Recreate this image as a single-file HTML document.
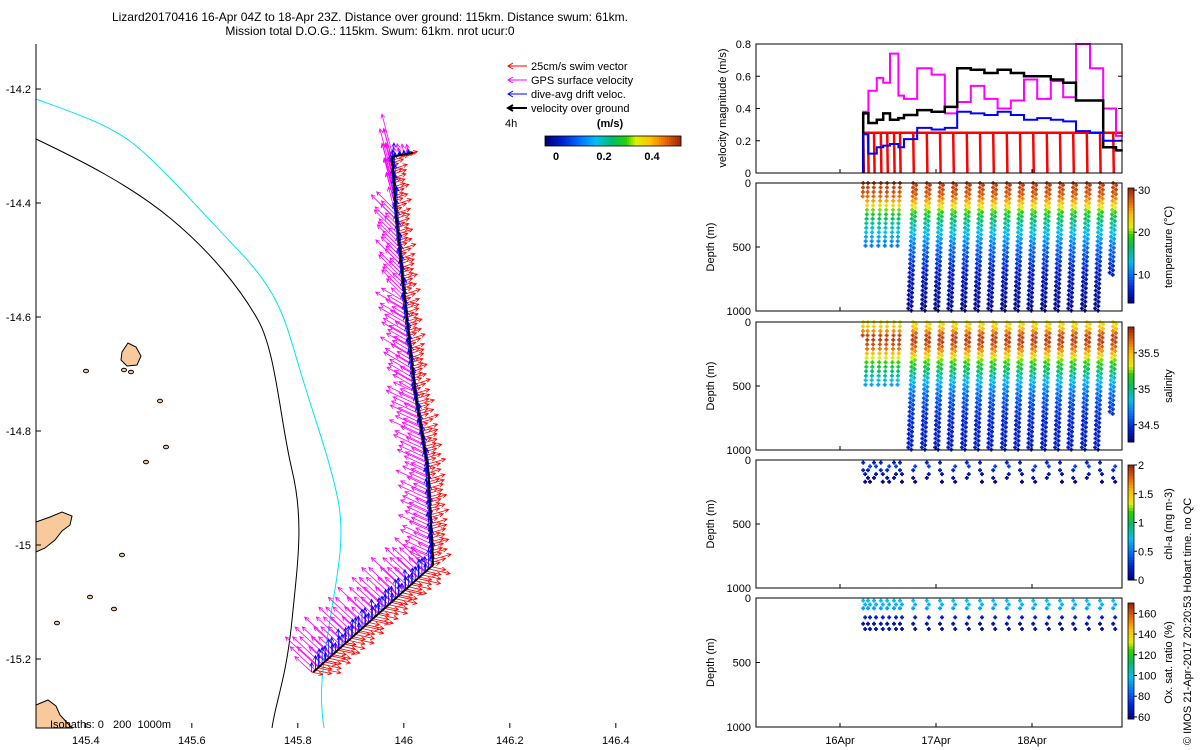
<!DOCTYPE html>
<html><head><meta charset="utf-8">
<style>
body{margin:0;background:#fff;}
svg{display:block;font-family:"Liberation Sans",sans-serif;}
</style></head>
<body>
<svg id="chart" width="1200" height="750" viewBox="0 0 1200 750">
<text x="370" y="21" font-size="12" text-anchor="middle">Lizard20170416 16-Apr 04Z to 18-Apr 23Z. Distance over ground: 115km. Distance swum: 61km.</text>
<text x="370" y="35" font-size="12" text-anchor="middle">Mission total D.O.G.: 115km. Swum: 61km. nrot ucur:0</text>
<g id="map"></g>
<g id="ts"></g>
<text transform="translate(1191,745) rotate(-90)" font-size="11">© IMOS 21-Apr-2017 20:20:53 Hobart time. no QC</text>
</svg>
<script>
// ---------- DATA ----------
const trackLon=[145.829,146.055,146.046,146.021,146.002,145.985,145.978,146.017];
const trackLat=[-15.223,-15.035,-14.868,-14.728,-14.570,-14.412,-14.319,-14.312];
const gpsU=[-28,-26,-26,-24,-20,-10,-2];
const gpsV=[-26,-12,-12,-14,-20,-38,-10];
const driftU=[0,-2,-2,-2,-1,0,0];
const driftV=[-16,-14,-12,-12,-12,-14,-4];
const swimU=[18,14,14,12,12,12,10];
const swimV=[4,-4,-4,-4,-4,-4,-2];
const xTicks=[145.4,145.6,145.8,146,146.2,146.4];
const yTicks=[-14.2,-14.4,-14.6,-14.8,-15,-15.2];
const stepH=[5.8,7.1,9.2,10.8,12.5,14.6,16,19.3,22.9,26.2,29.3,32.7,36.1,39.4,42.7,46,49.3,52.7,55.8,59,62.5,65.8,69];
const gpsVel=[0.38,0.51,0.59,0.56,0.74,0.48,0.46,0.65,0.61,0.37,0.44,0.54,0.46,0.40,0.45,0.58,0.46,0.57,0.47,0.95,0.65,0.40,0.23];
const dogVel=[0.37,0.31,0.33,0.37,0.33,0.34,0.36,0.39,0.38,0.41,0.65,0.64,0.62,0.64,0.62,0.60,0.60,0.58,0.56,0.45,0.45,0.16,0.14];
const driftVel=[0.24,0.12,0.16,0.17,0.18,0.16,0.21,0.28,0.27,0.28,0.38,0.37,0.36,0.38,0.36,0.33,0.34,0.33,0.32,0.26,0.25,0.20,0.20];
const swimVel=0.25;
const endH=70.7;
const diveH=[5.8,7.0,8.5,10.2,11.8,13.5,15.0,18.3,21.7,25,28.3,31.7,35,38.3,41.7,45,48.3,51.7,55,58.3,61.7,65,68.3];
const diveMax=[120,500,500,500,500,500,500,1000,1000,1000,1000,1000,1000,1000,1000,1000,1000,1000,1000,1000,1000,1000,700];
const profDepth=[0,50,100,150,200,250,300,400,500,600,700,800,1000];
const tempProf=[29.5,29,28,25,21,18,16,13,10,8,6,5,4];
const salProf=[35.35,35.5,35.78,35.8,35.7,35.5,35.25,35.0,34.75,34.6,34.5,34.45,34.42];
const chlDepth=[20,50,80,110,140,170];
const chlVal=[0.2,0.35,0.25,0.15,0.1,0.05];
const oxDepth=[20,50,80,150,200,240];
const oxVal=[100,97,94,70,65,65];
const velTicks=[0,0.2,0.4,0.6,0.8];
const dayLabels=["16Apr","17Apr","18Apr"];
const dayHours=[0,24,48];

// ---------- HELPERS ----------
const NS="http://www.w3.org/2000/svg";
function mk(parent,tag,a,txt){const e=document.createElementNS(NS,tag);for(const k in a)e.setAttribute(k,a[k]);if(txt!==undefined)e.textContent=txt;parent.appendChild(e);return e;}
const cmS=[0,0.12,0.25,0.37,0.5,0.6,0.67,0.78,0.88,1];
const cmC=[[0,0,122],[0,32,208],[0,112,255],[0,192,240],[0,192,96],[48,208,0],[224,240,0],[255,192,0],[240,112,0],[160,40,16]];
function jet(t){t=Math.max(0,Math.min(1,t));let i=1;while(i<cmS.length-1&&t>cmS[i])i++;const f=(t-cmS[i-1])/(cmS[i]-cmS[i-1]);
 const c=cmC[i-1].map((v,k)=>Math.round(v+f*(cmC[i][k]-v)));return `rgb(${c[0]},${c[1]},${c[2]})`;}
function interp(xs,ys,x){if(x<=xs[0])return ys[0];for(let i=1;i<xs.length;i++){if(x<=xs[i]){const f=(x-xs[i-1])/(xs[i]-xs[i-1]);return ys[i-1]+f*(ys[i]-ys[i-1]);}}return ys[ys.length-1];}
function plus(g,x,y,col){mk(g,'path',{d:`M${(x-2).toFixed(1)} ${y.toFixed(1)}h4M${x.toFixed(1)} ${(y-2).toFixed(1)}v4`,stroke:col,'stroke-width':1.8,fill:'none'});}

// ---------- MAP ----------
const map=document.getElementById('map');
const MX=lon=>36+(lon-145.306)*530, MY=lat=>89+(-14.2-lat)*570;
const land=mk(map,'g',{fill:'#f8c99a',stroke:'#000','stroke-width':1});


mk(land,'path',{d:'M36 522 L50 517 L62 512 L72 516 L70 525 L62 531 L55 540 L45 548 L36 552 Z'});
mk(land,'path',{d:'M36 705 L48 700 L56 706 L60 715 L72 728 L36 728 Z'});
mk(land,'path',{d:'M122 352 L128 343 L136 347 L141 356 L137 365 L127 366 L121 360 Z'});
[[86,371],[124,370],[131,372],[160,401],[166,447],[146,462],[122,555],[90,597],[114,609],[57,623]].forEach(p=>{mk(land,'ellipse',{cx:p[0],cy:p[1],rx:2.5,ry:1.8});});
const iso0=mk(map,'path',{d:'M36 139 C80 160 130 185 170 218 S240 288 258 320 S280 420 292 470 S298 560 292 620 S276 700 272 728',fill:'none',stroke:'#000','stroke-width':1});


const iso1=mk(map,'path',{d:'M36 99 C80 115 110 125 135 145 S200 210 240 252 S285 320 300 370 S330 460 338 500 S336 580 330 620 S318 690 324 728',fill:'none',stroke:'#00e5ee','stroke-width':1});


const vecG=mk(map,'g',{});


function arrow(g,x,y,dx,dy,col){const L=Math.hypot(dx,dy)||1,ux=dx/L,uy=dy/L,hx=x+dx,hy=y+dy,h=4;
 mk(g,'path',{d:`M${x.toFixed(1)} ${y.toFixed(1)}L${hx.toFixed(1)} ${hy.toFixed(1)}M${(hx-h*ux+h*0.5*uy).toFixed(1)} ${(hy-h*uy-h*0.5*ux).toFixed(1)}L${hx.toFixed(1)} ${hy.toFixed(1)}L${(hx-h*ux-h*0.5*uy).toFixed(1)} ${(hy-h*uy+h*0.5*ux).toFixed(1)}`,stroke:col,fill:'none','stroke-width':0.8});}
const layers=[['#ff00ff',gpsU,gpsV,'gps-vectors'],['#ff0000',swimU,swimV,'swim-vectors'],['#0000ff',driftU,driftV,'drift-vectors']];
layers.forEach(L=>{const g=mk(vecG,'g',{});
 
 
 for(let s=0;s<trackLon.length-1;s++){const x0=MX(trackLon[s]),y0=MY(trackLat[s]),x1=MX(trackLon[s+1]),y1=MY(trackLat[s+1]);
  const n=Math.max(2,Math.round(Math.hypot(x1-x0,y1-y0)/3));
  for(let k=0;k<n;k++){const f=k/n;const jx=(k%3-1)*1.5;const sc=0.6+0.6*((k*7)%5)/4;arrow(g,x0+f*(x1-x0)+jx,y0+f*(y1-y0),L[1][s]*sc,L[2][s]*sc,L[0]);}}});
const tr=mk(map,'polyline',{points:trackLon.map((l,i)=>MX(l).toFixed(1)+','+MY(trackLat[i]).toFixed(1)).join(' '),fill:'none',stroke:'#000','stroke-width':2});


mk(map,'line',{x1:36,y1:44,x2:36,y2:728,stroke:'#000','stroke-width':1});
xTicks.forEach(v=>{const x=MX(v);mk(map,'line',{x1:x,y1:728,x2:x,y2:723,stroke:'#000'});
 const t=mk(map,'text',{x:x,y:744,'font-size':11,'text-anchor':'middle'},String(v));
 
 });
yTicks.forEach(v=>{const y=MY(v);mk(map,'line',{x1:36,y1:y,x2:41,y2:y,stroke:'#000'});
 const t=mk(map,'text',{x:31,y:y+4,'font-size':11,'text-anchor':'end'},String(v));
 
 });
const isoT=mk(map,'text',{x:50,y:728,'font-size':11,'xml:space':'preserve'},'Isobaths: 0   200  1000m');


isoT.style.whiteSpace='pre';
const lg=mk(map,'g',{});


[['25cm/s swim vector','#ff0000'],['GPS surface velocity','#ff00ff'],['dive-avg drift veloc.','#0000ff'],['velocity over ground','#000']].forEach((e,i)=>{const y=66+i*14;
 const g=mk(lg,'g',{});
 
 
 mk(g,'path',{d:`M527 ${y}L508 ${y}M513 ${y-3}L508 ${y}L513 ${y+3}`,stroke:e[1],'stroke-width':i==3?2:1,fill:'none'});
 mk(g,'text',{x:531,y:y+4,'font-size':11},e[0]);});
mk(lg,'text',{x:505,y:127,'font-size':11},'4h');
mk(lg,'text',{x:610,y:127,'font-size':11,'font-weight':'bold','text-anchor':'middle'},'(m/s)');
for(let i=0;i<68;i++)mk(lg,'rect',{x:545+i*2,y:136,width:2.2,height:10,fill:jet(i/67)});
mk(lg,'rect',{x:545,y:136,width:136,height:10,fill:'none',stroke:'#000','stroke-width':0.8});
[['0',556],['0.2',604],['0.4',652]].forEach(t=>mk(lg,'text',{x:t[1],y:160,'font-size':11,'font-weight':'bold','text-anchor':'middle'},t[0]));

// ---------- TIME SERIES ----------
const ts=document.getElementById('ts');
const TX=h=>840+h*4;
const L0=756,R0=1122;
const panels=[[44,173],[183,311],[322,450],[460,588],[598,727]];
const p0=mk(ts,'g',{});


const VY=v=>173-Math.min(v,0.8)/0.8*129;
function stepPath(vals){let d='';for(let i=0;i<stepH.length;i++){const x0=TX(stepH[i]),x1=TX(i+1<stepH.length?stepH[i+1]:endH),y=VY(vals[i]);d+=(i==0?`M${x0} ${VY(0)}L`:'L')+`${x0} ${y}L${x1} ${y}`;}return d;}
let rd=`M${TX(diveH[0])} ${VY(swimVel)}L${TX(endH)} ${VY(swimVel)}`;
diveH.forEach(h=>{rd+=`M${TX(h)} ${VY(swimVel)}L${TX(h+0.15)} ${VY(0)}`;});
const sw=mk(p0,'path',{d:rd,stroke:'#ff0000','stroke-width':2.5,fill:'none'});


const gl=mk(p0,'path',{d:stepPath(gpsVel),stroke:'#ff00ff','stroke-width':2,fill:'none'});


const dl=mk(p0,'path',{d:stepPath(dogVel),stroke:'#000','stroke-width':2.5,fill:'none'});


const bl=mk(p0,'path',{d:stepPath(driftVel),stroke:'#0000ff','stroke-width':2,fill:'none'});


mk(p0,'rect',{x:L0,y:44,width:R0-L0,height:129,fill:'none',stroke:'#000','stroke-width':1});
velTicks.forEach(v=>{const y=VY(v);mk(p0,'line',{x1:L0,y1:y,x2:L0+4,y2:y,stroke:'#000'});mk(p0,'line',{x1:R0,y1:y,x2:R0-4,y2:y,stroke:'#000'});
 const t=mk(p0,'text',{x:751,y:y+4,'font-size':11,'text-anchor':'end'},String(v));
 
 });
mk(p0,'text',{transform:'translate(726,108) rotate(-90)','font-size':11,'text-anchor':'middle'},'velocity magnitude (m/s)');

const profCfg=[
 {name:'temperature',lab:'temperature (°C)',min:3.2,max:30.5,ticks:[10,20,30]},
 {name:'salinity',lab:'salinity',min:34.26,max:35.86,ticks:[34.5,35,35.5]},
 {name:'chl-a',lab:'chl-a (mg m-3)',min:0,max:2,ticks:[0,0.5,1,1.5,2]},
 {name:'oxygen',lab:'Ox. sat. ratio (%)',min:58,max:170,ticks:[60,80,100,120,140,160]}];
profCfg.forEach((c,k)=>{const [top,bot]=panels[k+1];const g=mk(ts,'g',{});
 
 
 const DY=d=>top+d/1000*(bot-top);
 const col=v=>jet((v-c.min)/(c.max-c.min));
 diveH.forEach((h,i)=>{const mx=diveMax[i];
  if(k<2){const prof=k==0?tempProf:salProf;
   for(let d=0;d<=mx;d+=35){const v=interp(profDepth,prof,d);const x=TX(h)-d/1000*5;
    plus(g,x,DY(d),col(v));
    if(mx>600)plus(g,x+3,DY(d+17),col(interp(profDepth,prof,d+17)));}}
  else{const dd=k==2?chlDepth:oxDepth,vv=k==2?chlVal:oxVal;
   dd.forEach((d,j)=>{if(k==2&&(i+j)%3==1)return;plus(g,TX(h)+(j%2)*2,DY(d),col(vv[j]));});}});
 mk(g,'rect',{x:L0,y:top,width:R0-L0,height:bot-top,fill:'none',stroke:'#000'});
 [0,500,1000].forEach(d=>{mk(g,'line',{x1:L0,y1:DY(d),x2:L0+4,y2:DY(d),stroke:'#000'});
  const t=mk(g,'text',{x:751,y:DY(d)+4,'font-size':11,'text-anchor':'end'},String(d));
  
  });
 mk(g,'text',{transform:`translate(714,${(top+bot)/2}) rotate(-90)`,'font-size':11,'text-anchor':'middle'},'Depth (m)');
 const cb=mk(g,'g',{});
 
 
 const ct=top+5,cbH=bot-top-13;
 for(let i=0;i<40;i++)mk(cb,'rect',{x:1128,y:ct+cbH*i/40,width:6,height:cbH/40+0.5,fill:jet(1-i/40)});
 mk(cb,'rect',{x:1128,y:ct,width:6,height:cbH,fill:'none',stroke:'#000','stroke-width':0.8});
 const CY=v=>ct+cbH*(1-(v-c.min)/(c.max-c.min));
 c.ticks.forEach(t=>{mk(cb,'line',{x1:1134,y1:CY(t),x2:1137,y2:CY(t),stroke:'#000'});mk(cb,'text',{x:1138,y:CY(t)+4,'font-size':11},String(t));});
 mk(cb,'text',{transform:`translate(1172,${(top+bot)/2}) rotate(-90)`,'font-size':11,'text-anchor':'middle'},c.lab);
});
dayLabels.forEach((l,i)=>{const x=TX(dayHours[i]);panels.forEach(p=>{mk(ts,'line',{x1:x,y1:p[1],x2:x,y2:p[1]-4,stroke:'#000'});});
 const t=mk(ts,'text',{x:x,y:744,'font-size':11,'text-anchor':'middle'},l);
 
 });
</script>
</body></html>
